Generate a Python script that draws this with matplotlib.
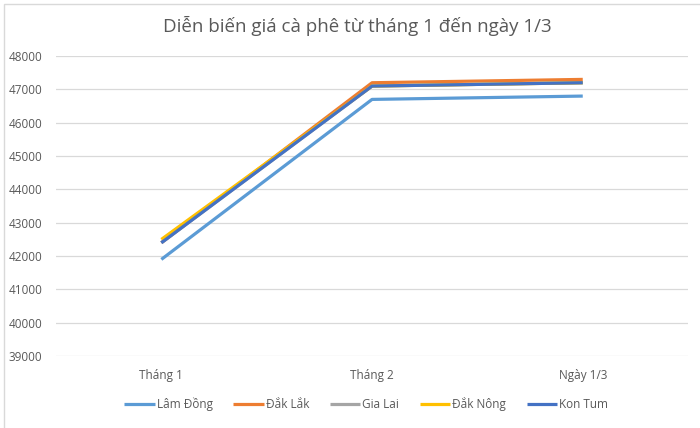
import matplotlib.pyplot as plt
from matplotlib.patches import Rectangle

categories = ["Tháng 1", "Tháng 2", "Ngày 1/3"]
lam_dong = [41900, 46700, 46800]
dak_lak = [42400, 47200, 47300]
gia_lai = [42400, 47100, 47200]
dak_nong = [42500, 47100, 47200]
kon_tum = [42400, 47100, 47200]

series = [
    ("Lâm Đồng", lam_dong, "#5B9BD5"),
    ("Đắk Lắk", dak_lak, "#ED7D31"),
    ("Gia Lai", gia_lai, "#A5A5A5"),
    ("Đắk Nông", dak_nong, "#FFC000"),
    ("Kon Tum", kon_tum, "#4472C4"),
]

plt.rcParams['font.family'] = ['Open Sans', 'DejaVu Sans']

fig = plt.figure(figsize=(7, 4.28), dpi=100)
ax = fig.add_axes([0.08, 0.168, 0.903, 0.701])

x = list(range(len(categories)))
for name, vals, col in series:
    ax.plot(x, vals, color=col, linewidth=2.3, label=name, solid_capstyle='butt')

ax.set_xlim(-0.5, 2.5)
ax.set_ylim(39000, 48000)
ax.set_yticks(range(39000, 48001, 1000))
ax.set_xticks(x)
ax.set_xticklabels(categories)
ax.yaxis.grid(True, color="#D9D9D9", linewidth=0.9)
ax.set_axisbelow(True)
for s in ax.spines.values():
    s.set_visible(False)
ax.tick_params(axis='both', length=0, labelsize=8.5, colors="#595959")
ax.tick_params(axis='y', pad=10)
ax.tick_params(axis='x', pad=9)

fig.suptitle("Diễn biến giá cà phê từ tháng 1 đến ngày 1/3", x=0.51, y=0.962,
             fontsize=13.5, color="#595959")

leg = fig.legend(loc='center', bbox_to_anchor=(0.523, 0.056), ncol=5, frameon=False,
                 fontsize=8.5, handlelength=2.6, handletextpad=0.15, columnspacing=1.75)
for t in leg.get_texts():
    t.set_color("#595959")

fig.patches.append(Rectangle((0.005, -0.01), 1.1, 1.0, transform=fig.transFigure,
                             fill=False, edgecolor="#D9D9D9", linewidth=1))

fig.savefig("out.png", dpi=100)
